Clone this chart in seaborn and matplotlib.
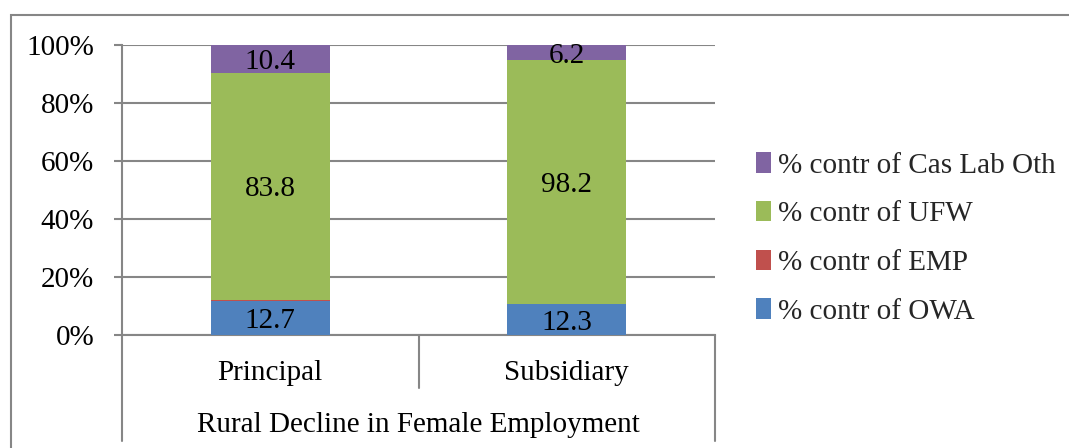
import matplotlib
matplotlib.use("Agg")
import matplotlib.pyplot as plt
from matplotlib.patches import Rectangle
from matplotlib.ticker import PercentFormatter
import numpy as np
import pandas as pd
import seaborn as sns

# Contributions to the rural decline in female employment
categories = ["Principal", "Subsidiary"]
owa = [12.7, 12.3]
emp = [0.3, 0.1]
ufw = [83.8, 98.2]
cas_lab_oth = [10.4, 6.2]

series_names = ["% contr of OWA", "% contr of EMP", "% contr of UFW", "% contr of Cas Lab Oth"]
series_values = [owa, emp, ufw, cas_lab_oth]
series_colors = ["#4F81BD", "#C0504D", "#9BBB59", "#8064A2"]
labelled = [True, False, True, True]
group_title = "Rural Decline in Female Employment"

sns.set_theme(style="white")
plt.rcParams["font.family"] = ["Liberation Serif", "DejaVu Serif"]
FS = 21
GRID = "#868686"

vals = np.array(series_values, dtype=float)
shares = vals / vals.sum(axis=0) * 100.0
cum = np.cumsum(shares, axis=0)

fig = plt.figure(figsize=(10.69, 4.48), dpi=100)
ax = fig.add_axes([122 / 1069, 1 - 335 / 448, (715 - 122) / 1069, 290 / 448])

# 100% stacked bars: draw cumulative totals from the top layer down
for i in reversed(range(len(series_names))):
    df = pd.DataFrame({"category": categories, "value": cum[i]})
    sns.barplot(data=df, x="category", y="value", color=series_colors[i],
                saturation=1, width=0.4, ax=ax, linewidth=0, zorder=3)

# value labels centred in their segments
for i in range(len(series_names)):
    if not labelled[i]:
        continue
    for j in range(len(categories)):
        mid = cum[i][j] - shares[i][j] / 2
        ax.text(j, mid, f"{vals[i][j]:.1f}", ha="center", va="center_baseline",
                fontsize=FS, color="black", zorder=5)

ax.set_ylim(0, 100)
ax.set_xlim(-0.5, len(categories) - 0.5)
ax.set_yticks(np.arange(0, 101, 20))
ax.yaxis.set_major_formatter(PercentFormatter(decimals=0))
ax.grid(axis="y", color=GRID, linewidth=1.5, zorder=0)
ax.grid(axis="x", visible=False)
ax.set_axisbelow(True)
ax.tick_params(axis="y", length=6, width=1.5, color=GRID, pad=14, labelsize=FS, labelcolor="black", left=True)
ax.tick_params(axis="x", length=0, labelbottom=False)
ax.set_xlabel("")
ax.set_ylabel("")
for s in ["top", "right"]:
    ax.spines[s].set_visible(False)
ax.spines["left"].set_color(GRID)
ax.spines["left"].set_linewidth(1.5)
ax.spines["bottom"].set_color(GRID)
ax.spines["bottom"].set_linewidth(1.5)

# multi-level category axis
xt = ax.get_xaxis_transform()
for j, c in enumerate(categories):
    ax.text(j, -0.13, c, transform=xt, ha="center", va="center", fontsize=FS, color="black")
ax.text((len(categories) - 1) / 2, -0.31, group_title, transform=xt,
        ha="center", va="center", fontsize=FS, color="black")
for x0, y1 in [(-0.5, -0.365), (0.5, -0.183), (len(categories) - 0.5, -0.365)]:
    ax.plot([x0, x0], [0, y1], transform=xt, color=GRID, linewidth=1.5, clip_on=False, zorder=4)

# legend, top entry is the top layer
handles = [Rectangle((0, 0), 1, 1, facecolor=c, edgecolor="none") for c in series_colors]
leg = fig.legend(handles[::-1], series_names[::-1], loc="center left",
                 bbox_to_anchor=(756 / 1069, 1 - 238.5 / 448), frameon=False,
                 fontsize=FS, borderpad=0, borderaxespad=0, handlelength=0.52,
                 handleheight=0.7, handletextpad=0.25, labelspacing=0.76)

# chart area border
fig.add_artist(Rectangle((11 / 1069, -0.2), 1.2, 0.2 + 1 - 15 / 448, transform=fig.transFigure,
                         fill=False, edgecolor=GRID, linewidth=1.5))

fig.savefig("out.png", dpi=100)
